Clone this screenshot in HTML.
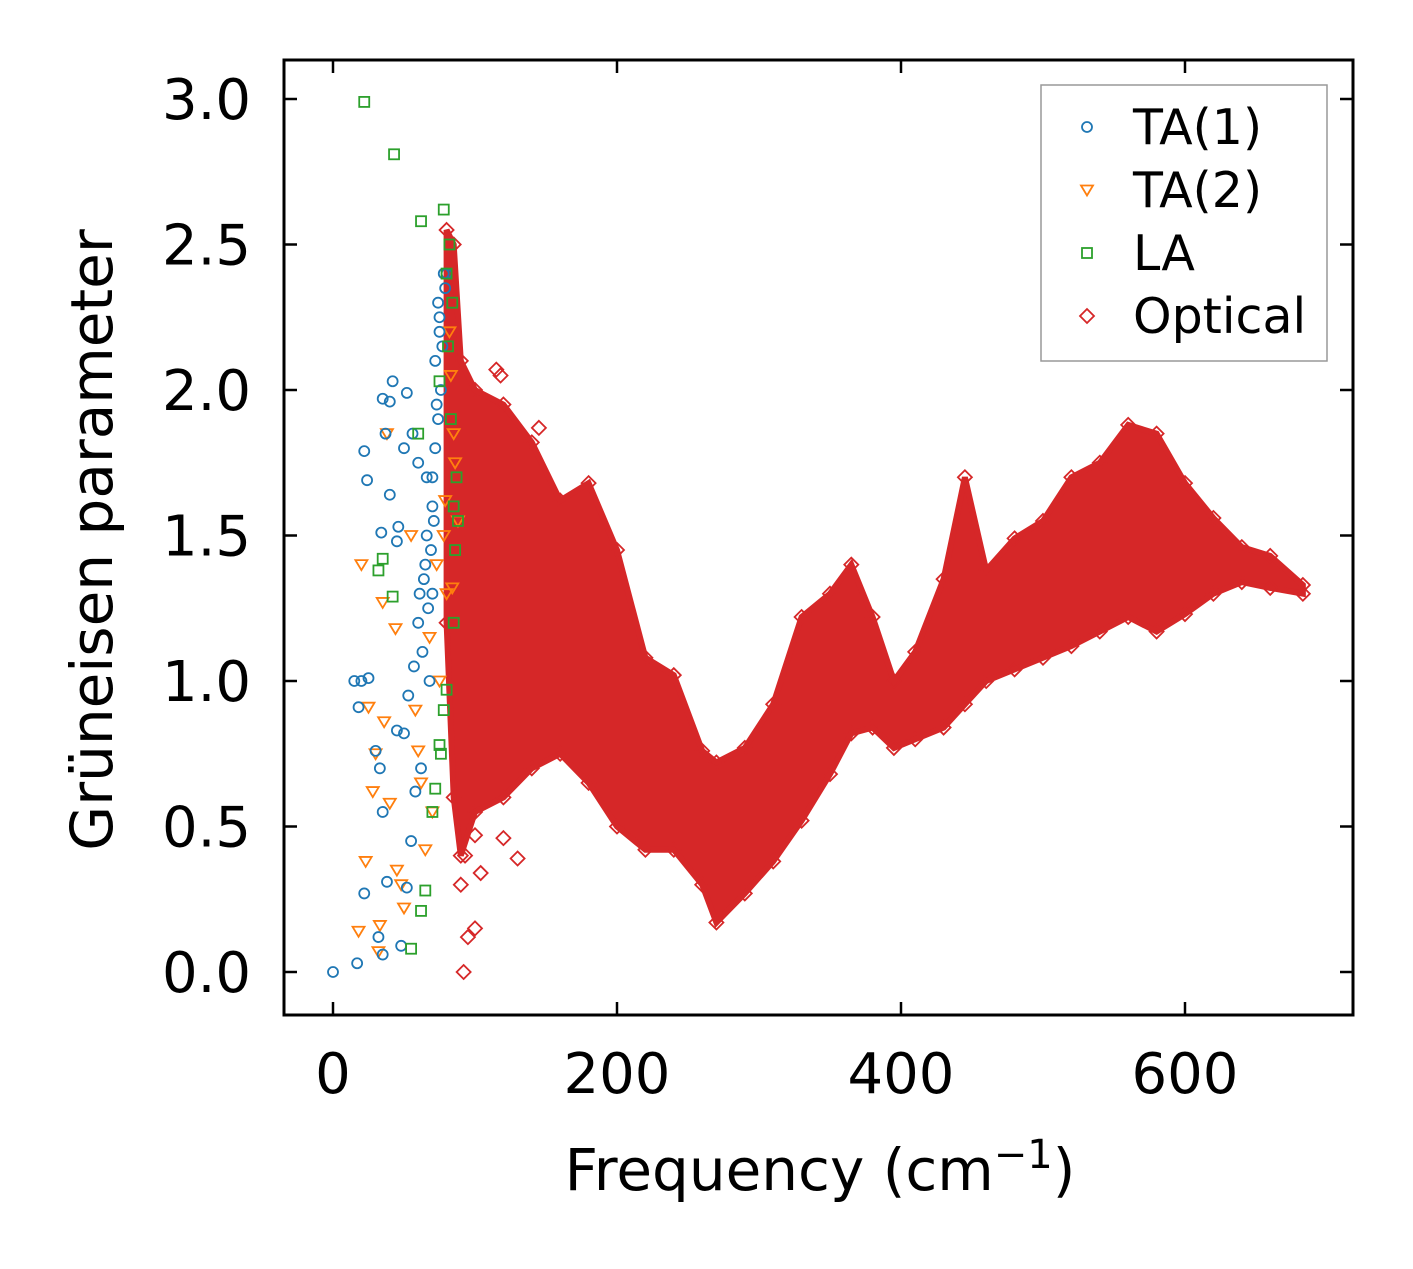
<!DOCTYPE html>
<html><head><meta charset="utf-8"><style>
html,body{margin:0;padding:0;background:#fff;}
svg text{font-family:"DejaVu Sans","Liberation Sans",sans-serif;fill:#000;}
</style></head><body>
<svg id="chart" width="1413" height="1264" viewBox="0 0 1413 1264" xmlns="http://www.w3.org/2000/svg">
<rect x="0" y="0" width="1413" height="1264" fill="#fff"/>
<g id="marks"></g>
<g id="axes"></g>
<text x="820" y="1190" font-size="58" text-anchor="middle">Frequency (cm<tspan dy="-22" font-size="40">−1</tspan><tspan dy="22">)</tspan></text>
<text transform="translate(112,540) rotate(-90)" font-size="58" text-anchor="middle">Grüneisen parameter</text>
<g id="legend">
<rect x="1041" y="85" width="286" height="276" fill="#fff" stroke="#999" stroke-width="1.5"/>
</g>
</svg>
<script>
const xTicks=[0,200,400,600];
const yTicks=[0.0,0.5,1.0,1.5,2.0,2.5,3.0];
const yTickLabels=["0.0","0.5","1.0","1.5","2.0","2.5","3.0"];
const ta1X=[0,17,22,35,32,20,15,25,18,40,35,42,37,52,22,24,40,34,45,46,30,33,35,38,48,52,45,50,60,65,70,72,75,78,76,70,68,62,55,58,64,72,74,80,66,60,56,50,73,77,71,69,67,63,75,79,74,70,66,61,57,53];
const ta1Y=[0,0.03,0.27,0.06,0.12,1.0,1.0,1.01,0.91,1.96,1.97,2.03,1.85,1.99,1.79,1.69,1.64,1.51,1.48,1.53,0.76,0.7,0.55,0.31,0.09,0.29,0.83,0.82,1.2,1.4,1.6,1.8,2.2,2.4,2.0,1.3,1.0,0.7,0.45,0.62,1.35,2.1,2.3,2.4,1.7,1.75,1.85,1.8,1.95,2.15,1.55,1.45,1.25,1.1,2.25,2.35,1.9,1.7,1.5,1.3,1.05,0.95];
const ta2X=[20,25,23,18,32,33,40,45,50,35,44,55,38,60,70,75,80,85,82,78,88,84,65,30,36,28,48,58,68,86,83,79,73,62];
const ta2Y=[1.4,0.91,0.38,0.14,0.07,0.16,0.58,0.35,0.22,1.27,1.18,1.5,1.85,0.76,0.55,1.0,1.3,1.85,2.2,1.5,1.55,1.32,0.42,0.75,0.86,0.62,0.3,0.9,1.15,1.75,2.05,1.62,1.4,0.65];
const laX=[22,43,62,78,80,82,75,85,87,35,32,42,62,65,55,70,75,80,85,60,86,72,78,83,84,81,88,76];
const laY=[2.99,2.81,2.58,2.62,2.4,2.5,2.03,1.6,1.7,1.42,1.38,1.29,0.21,0.28,0.08,0.55,0.78,0.97,1.2,1.85,1.45,0.63,0.9,1.9,2.3,2.15,1.55,0.75];
const optF=[80,85,90,100,120,140,160,180,200,220,240,260,270,290,310,330,350,365,380,395,410,430,445,460,480,500,520,540,560,580,600,620,640,660,683];
const optLo=[1.2,0.6,0.4,0.55,0.6,0.7,0.75,0.65,0.5,0.42,0.42,0.3,0.17,0.27,0.38,0.52,0.68,0.82,0.84,0.77,0.8,0.84,0.92,1.0,1.04,1.08,1.12,1.17,1.22,1.17,1.23,1.3,1.34,1.32,1.3];
const optHi=[2.55,2.5,2.1,2.0,1.95,1.82,1.62,1.68,1.45,1.08,1.02,0.76,0.72,0.77,0.92,1.22,1.3,1.4,1.22,1.0,1.1,1.35,1.7,1.38,1.49,1.55,1.7,1.75,1.88,1.85,1.68,1.56,1.46,1.43,1.33];
const optExtraX=[92,95,100,130,145,115,118,90,93,100,104,120];
const optExtraY=[0.0,0.12,0.15,0.39,1.87,2.07,2.05,0.3,0.4,0.47,0.34,0.46];

const X0=284,X1=1353,Y0=60,Y1=1015;
const sx=v=>333+v*1.42;
const sy=v=>972-v*291;
const NS="http://www.w3.org/2000/svg";
const marks=document.getElementById('marks');
const axes=document.getElementById('axes');
function mk(tag,attrs,parent){const e=document.createElementNS(NS,tag);for(const k in attrs)e.setAttribute(k,attrs[k]);parent.appendChild(e);return e;}
function marker(type,x,y,color,parent){
  let e;
  if(type==='o'){e=mk('circle',{cx:x,cy:y,r:5,fill:'none',stroke:color,'stroke-width':1.8},parent);}
  else if(type==='v'){e=mk('polygon',{points:`${x-6},${y-4.5} ${x+6},${y-4.5} ${x},${y+5.5}`,fill:'none',stroke:color,'stroke-width':1.8},parent);}
  else if(type==='s'){e=mk('rect',{x:x-5,y:y-5,width:10,height:10,fill:'none',stroke:color,'stroke-width':1.8},parent);}
  else {e=mk('polygon',{points:`${x},${y-7} ${x+7},${y} ${x},${y+7} ${x-7},${y}`,fill:'none',stroke:color,'stroke-width':1.8},parent);}
  return e;
}
let pts=[];
for(let i=0;i<optF.length;i++)pts.push(sx(optF[i])+','+sy(optHi[i]));
for(let i=optF.length-1;i>=0;i--)pts.push(sx(optF[i])+','+sy(optLo[i]));
const band=mk('polygon',{points:pts.join(' '),fill:'#d62728',stroke:'#d62728','stroke-width':6,'stroke-linejoin':'miter'},marks);


for(let i=0;i<optF.length;i++){
  const a=marker('d',sx(optF[i]),sy(optHi[i]),'#d62728',marks);
  
  
  const b=marker('d',sx(optF[i]),sy(optLo[i]),'#d62728',marks);
  
  
}
for(let i=0;i<optExtraX.length;i++){
  const a=marker('d',sx(optExtraX[i]),sy(optExtraY[i]),'#d62728',marks);
  
  
}
for(let i=0;i<ta2X.length;i++){
  const a=marker('v',sx(ta2X[i]),sy(ta2Y[i]),'#ff7f0e',marks);
  
  
}
for(let i=0;i<ta1X.length;i++){
  const a=marker('o',sx(ta1X[i]),sy(ta1Y[i]),'#1f77b4',marks);
  
  
}
for(let i=0;i<laX.length;i++){
  const a=marker('s',sx(laX[i]),sy(laY[i]),'#2ca02c',marks);
  
  
}
const fr=mk('rect',{x:X0,y:Y0,width:X1-X0,height:Y1-Y0,fill:'none',stroke:'#000','stroke-width':3},axes);


xTicks.forEach(v=>{
  const x=sx(v);
  mk('line',{x1:x,y1:Y1,x2:x,y2:Y1-13,stroke:'#000','stroke-width':2.5},axes);
  mk('line',{x1:x,y1:Y0,x2:x,y2:Y0+13,stroke:'#000','stroke-width':2.5},axes);
  const t=mk('text',{x:x,y:1093,'font-size':56,'text-anchor':'middle'},axes);
  t.textContent=String(v);
  
  
});
yTicks.forEach((v,i)=>{
  const y=sy(v);
  mk('line',{x1:X0,y1:y,x2:X0+13,y2:y,stroke:'#000','stroke-width':2.5},axes);
  mk('line',{x1:X1,y1:y,x2:X1-13,y2:y,stroke:'#000','stroke-width':2.5},axes);
  const t=mk('text',{x:251,y:y+20,'font-size':56,'text-anchor':'end'},axes);
  t.textContent=yTickLabels[i];
  
  
});
const legend=document.getElementById('legend');
const legNames=['TA(1)','TA(2)','LA','Optical'];
const legTypes=['o','v','s','d'];
const legColors=['#1f77b4','#ff7f0e','#2ca02c','#d62728'];
legNames.forEach((n,i)=>{
  const y=127+i*63;
  const g=mk('g',{},legend);
  
  
  marker(legTypes[i],1087,y,legColors[i],g);
  const t=mk('text',{x:1133,y:y+17,'font-size':49},g);
  t.textContent=n;
});
</script>
</body></html>
